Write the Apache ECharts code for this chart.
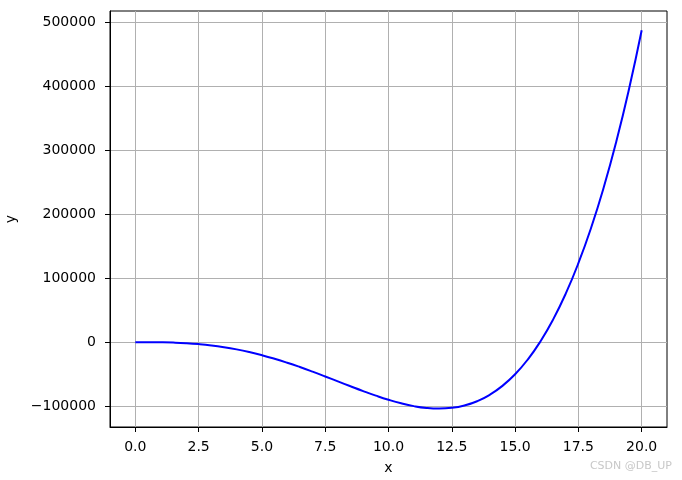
<!DOCTYPE html>
<html>
<head>
<meta charset="utf-8">
<script src="https://cdn.jsdelivr.net/npm/echarts@6/dist/echarts.min.js"></script>
<style>
html,body{margin:0;padding:0;background:#fff;}
#main{width:682px;height:480px;}
</style>
</head>
<body>
<div id="main"></div>
<script>
var xValues = [0,0.5,1,1.5,2,2.5,3,3.5,4,4.5,5,5.5,6,6.5,7,7.5,8,8.5,9,9.5,10,10.5,11,11.5,12,12.5,13,13.5,14,14.5,15,15.5,16,16.5,17,17.5,18,18.5,19,19.5,20];
var yValues = [0,-20,-190,-670,-1570,-3020,-5070,-7810,-11260,-15430,-20320,-25890,-32090,-38840,-46030,-53550,-61240,-68930,-76440,-83540,-90000,-95550,-99910,-102770,-103800,-102650,-98930,-92260,-82190,-68310,-50120,-27140,1140,35260,75780,123380,178380,241700,313890,395620,487500];
var xTicks = [0,2.5,5,7.5,10,12.5,15,17.5,20];
var yTicks = [-100000,0,100000,200000,300000,400000,500000];

var seriesData = xValues.map(function(x,i){return [x,yValues[i]];});
var chart = echarts.init(document.getElementById('main'), null, {renderer:'canvas'});
var font = 'DejaVu Sans';
chart.setOption({
  animation:false,
  backgroundColor:'#fff',
  grid:{left:110,right:15,top:11,bottom:53,show:true,borderColor:'#000',borderWidth:1,containLabel:false,outerBoundsMode:'none'},
  xAxis:{
    type:'value',min:-1,max:21,
    name:'x',nameLocation:'middle',nameGap:34,
    nameTextStyle:{fontFamily:font,fontSize:14,color:'#000'},
    axisLine:{show:true,onZero:false,lineStyle:{color:'#000',width:1}},
    axisTick:{show:true,length:5,inside:false,lineStyle:{color:'#000'},customValues:xTicks},
    axisLabel:{customValues:xTicks,margin:13,fontFamily:font,fontSize:14,color:'#000',
      formatter:function(v){return v.toFixed(1);}},
    splitLine:{show:true,lineStyle:{color:'#b0b0b0',width:1}}
  },
  yAxis:{
    type:'value',min:-132550,max:517550,
    name:'y',nameLocation:'middle',nameGap:92,nameRotate:90,
    nameTextStyle:{fontFamily:font,fontSize:14,color:'#000'},
    axisLine:{show:true,onZero:false,lineStyle:{color:'#000',width:1}},
    axisTick:{show:true,length:5,inside:false,lineStyle:{color:'#000'},customValues:yTicks},
    axisLabel:{customValues:yTicks,margin:14,fontFamily:font,fontSize:14,color:'#000',
      formatter:function(v){return String(v).replace('-','\u2212');}},
    splitLine:{show:true,lineStyle:{color:'#b0b0b0',width:1}}
  },
  graphic:[{type:'text',right:10,bottom:8,style:{text:'CSDN @DB_UP',fontFamily:font,fontSize:11,fill:'#c8c8c8'}}],
  series:[{type:'line',data:seriesData,smooth:true,showSymbol:false,symbol:'none',
    lineStyle:{color:'#0000ff',width:2},itemStyle:{color:'#0000ff'}}]
});
</script>
</body>
</html>
